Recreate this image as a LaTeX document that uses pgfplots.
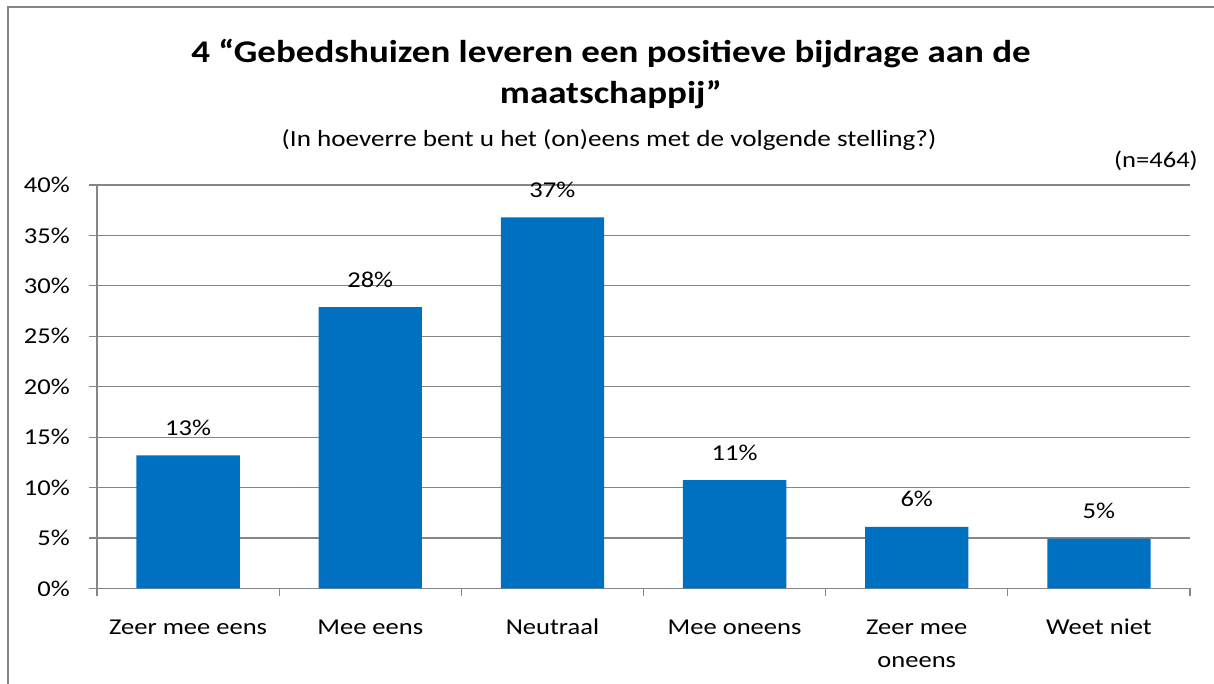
\documentclass[border=0pt]{standalone}
\usepackage{pgfplots}
\pgfplotsset{compat=1.18}
\usepackage{fontspec}
\setmainfont{Carlito}[FakeStretch=1.17]
\definecolor{barblue}{HTML}{0070C0}
\definecolor{gridgray}{HTML}{868686}
\begin{document}
\begin{tikzpicture}[x=0.75pt,y=0.75pt]
\useasboundingbox (0,0) rectangle (1214,684);
\draw[gridgray, line width=1.2pt] (8,0) -- (8,677) -- (1214,677);
\node[font=\fontsize{23.7}{30}\selectfont\bfseries, anchor=base, inner sep=0pt] at (611,621) {4 “Gebedshuizen leveren een positieve bijdrage aan de};
\node[font=\fontsize{23.7}{30}\selectfont\bfseries, anchor=base, inner sep=0pt] at (611,580) {maatschappij”};
\node[font=\fontsize{17.4}{21}\selectfont, anchor=base, inner sep=0pt] at (609,537) {(In hoeverre bent u het (on)eens met de volgende stelling?)};
\node[font=\fontsize{17}{21}\selectfont, anchor=base east, inner sep=0pt] at (1198,516) {(n=464)};
\begin{axis}[
  at={(72.75pt,71.625pt)}, anchor=south west,
  scale only axis, width=819.75pt, height=302.6pt,
  xmin=-0.5, xmax=5.5, ymin=0, ymax=40,
  ybar, bar width=77.5pt,
  ytick={0,5,...,40},
  yticklabels={0\%,5\%,10\%,15\%,20\%,25\%,30\%,35\%,40\%},
  xtick={0,...,5},
  xticklabels={\strut Zeer mee eens,\strut Mee eens,\strut Neutraal,\strut Mee oneens,{\strut Zeer mee\\oneens},\strut Weet niet},
  minor xtick={-0.5,0.5,...,5.5},
  tick align=outside,
  major tick length=6pt, minor tick length=6pt,
  major x tick style={draw=none},
  minor x tick style={gridgray, line width=0.9pt},
  ytick style={gridgray, line width=0.9pt},
  axis x line*=bottom, axis y line*=left,
  axis line style={gridgray, line width=0.9pt},
  ymajorgrids, grid style={gridgray, line width=0.9pt},
  tick label style={font=\fontsize{17}{24.75}\selectfont, text=black},
  xticklabel style={align=center, anchor=north, inner sep=0pt, yshift=-11.25pt},
  yticklabel style={anchor=east, inner sep=0pt, xshift=-14.25pt},
  /pgf/number format/assume math mode=true,
  nodes near coords={\pgfmathprintnumber[fixed,precision=0]{\pgfplotspointmeta}\%},
  every node near coord/.append style={font=\fontsize{17}{21}\selectfont, anchor=base, inner sep=0pt, yshift=15pt, text=black},
]
\addplot[fill=barblue, draw=none] coordinates {(0,13.2) (1,27.9) (2,36.8) (3,10.75) (4,6.1) (5,4.94)};
\end{axis}
\end{tikzpicture}
\end{document}
